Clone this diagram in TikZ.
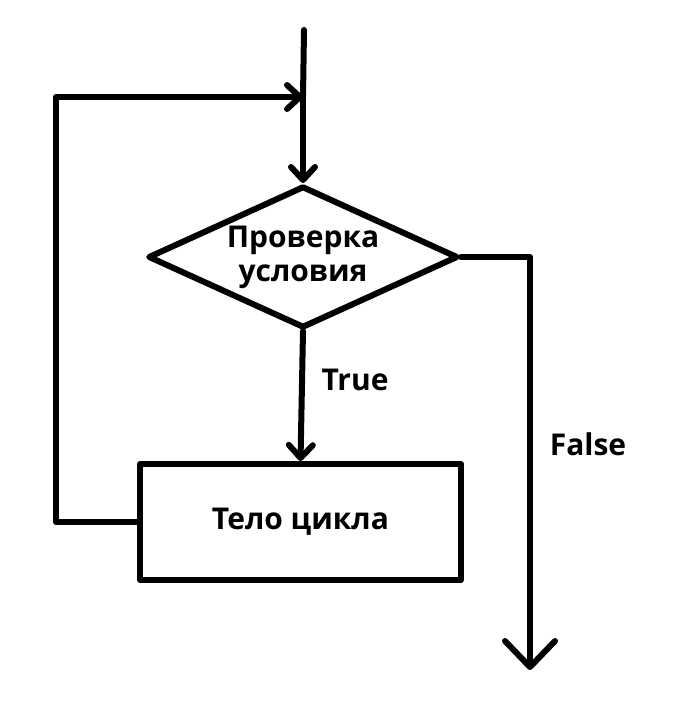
\documentclass[tikz,border=0pt]{standalone}
\usepackage{fontspec}
\setmainfont{Open Sans}
\usetikzlibrary{arrows.meta,shapes.geometric}

\begin{document}
\begin{tikzpicture}[x=0.5pt,y=-0.5pt,
	line width=3pt, line cap=round, line join=round,
	lbl/.style={font=\bfseries\fontsize{15pt}{17pt}\selectfont, align=center},
	arr/.style={-{Straight Barb[length=6.5pt,width=12pt,round]}},
	bigarr/.style={-{Straight Barb[length=13pt,width=25pt,round]}}]

\useasboundingbox (0,0) rectangle (676,722);

% blocks
\node[draw, diamond, shape aspect=2.18, minimum width=155pt, minimum height=71pt, inner sep=0pt, lbl] (cond) at (303,257) {Проверка\\условия};
\node[draw, rectangle, minimum width=160.5pt, minimum height=58pt, lbl] (body) at (300.5,522) {Тело цикла};

\coordinate (start) at (304,30);
\coordinate (join) at (303,97);
\coordinate (end) at (530,670);

% connectors
\draw (start) -- (join);
\draw[arr] (join) -- (cond.north);
\draw[arr] (cond.south) -- (body.north);
\draw[arr] (body.west) -- ++(-81,0) |- (join);
\draw[bigarr] (cond.east) -| (end);

\node[lbl] (ltrue) at (355,380) {True};
\node[lbl] (lfalse) at (588,444) {False};

\end{tikzpicture}
\end{document}
